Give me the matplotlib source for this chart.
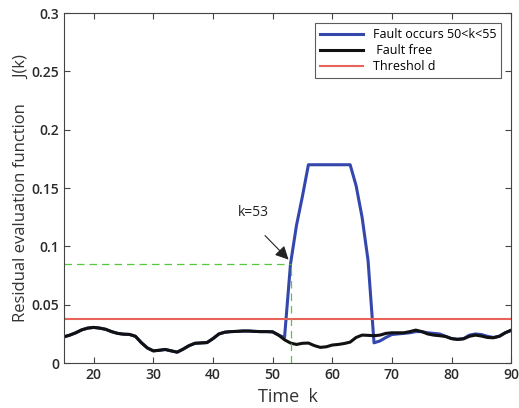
import numpy as np
import matplotlib.pyplot as plt

plt.rcParams['font.family'] = ['Open Sans', 'DejaVu Sans']

# time steps
k = np.arange(15, 91)

# fault free residual
fault_free = [0.0225, 0.024, 0.026, 0.0285, 0.030, 0.0306, 0.030, 0.029, 0.027, 0.0255,
              0.0248, 0.0246, 0.023, 0.0175, 0.013, 0.0105, 0.011, 0.0117, 0.0105, 0.0094,
              0.012, 0.015, 0.017, 0.0173, 0.0176, 0.021, 0.025, 0.0265, 0.027, 0.0272,
              0.0275, 0.0275, 0.0272, 0.027, 0.027, 0.0268, 0.024, 0.020, 0.0172, 0.016,
              0.017, 0.0172, 0.015, 0.0135, 0.014, 0.0155, 0.016, 0.0168, 0.018, 0.022,
              0.024, 0.0238, 0.0235, 0.024, 0.0255, 0.026, 0.026, 0.026, 0.027, 0.0283,
              0.027, 0.025, 0.024, 0.0235, 0.0228, 0.021, 0.0203, 0.0208, 0.023, 0.024,
              0.0232, 0.022, 0.0217, 0.023, 0.026, 0.0283]

# residual with fault (same as fault free before k=52)
fault = fault_free[:37] + [
    0.022, 0.085, 0.118, 0.143, 0.170, 0.170, 0.170, 0.170, 0.170, 0.170,
    0.170, 0.170, 0.152, 0.125, 0.088, 0.0174, 0.019, 0.022, 0.0245, 0.025,
    0.0255, 0.026, 0.027, 0.027, 0.026, 0.0255, 0.025, 0.023, 0.021, 0.0205,
    0.021, 0.024, 0.025, 0.0245, 0.023, 0.022, 0.023, 0.026, 0.028]

threshold = 0.038
k_detect = 53
j_detect = 0.085

fig = plt.figure(figsize=(5.19, 4.08), dpi=100)
ax = fig.add_axes([0.123, 0.110, 0.862, 0.858])

ax.plot(k, fault, color='#3347ad', lw=2.2, label='Fault occurs 50<k<55')
ax.plot(k, fault_free, color='#111111', lw=2.2, label=' Fault free')
ax.axhline(threshold, color='#e8645a', lw=1.5, label='Threshol d')

# detection marker
ax.plot([15, k_detect], [j_detect, j_detect], color='#55c83c', lw=0.9, ls=(0, (6, 4)))
ax.plot([k_detect, k_detect], [0, j_detect], color='#55c83c', lw=0.9, ls=(0, (6, 4)))
ax.annotate('', xy=(k_detect, 0.087), xytext=(48.4, 0.111),
            arrowprops=dict(arrowstyle='-|>', color='#222222', lw=0.8, mutation_scale=20))
ax.text(46.8, 0.129, 'k=53', ha='center', va='center', fontsize=10, color='#222222')

ax.set_xlim(15, 90)
ax.set_ylim(0, 0.3)
ax.set_xticks([20, 30, 40, 50, 60, 70, 80, 90])
ax.set_yticks([0, 0.05, 0.1, 0.15, 0.2, 0.25, 0.3])
ax.set_yticklabels(['0', '0.05', '0.1', '0.15', '0.2', '0.25', '0.3'])
ax.tick_params(direction='in', top=True, right=True, length=4, width=0.8,
               labelsize=10, labelcolor='#2a2a2a', colors='#444444')
for lab in ax.get_xticklabels() + ax.get_yticklabels():
    lab.set_fontweight('semibold')
for s in ax.spines.values():
    s.set_color('#444444')
    s.set_linewidth(0.8)

ax.set_xlabel('Time  k', fontsize=13, color='#333333', labelpad=4)
ax.set_ylabel('Residual evaluation function      J(k)', fontsize=12, color='#333333', labelpad=2)

leg = ax.legend(loc='upper right', fontsize=9, frameon=True, fancybox=False,
                handlelength=3.4, borderaxespad=0.8, labelspacing=0.25)
leg.get_frame().set_edgecolor('#333333')
leg.get_frame().set_linewidth(0.8)

fig.savefig('out.png', dpi=100)
